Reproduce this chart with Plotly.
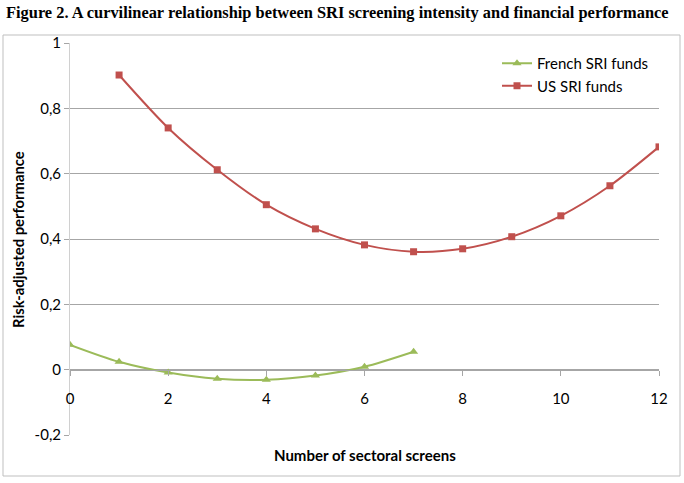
import plotly.graph_objects as go

x_french = [0, 1, 2, 3, 4, 5, 6, 7]
y_french = [0.076, 0.024, -0.009, -0.028, -0.031, -0.018, 0.009, 0.055]
x_us = [1, 2, 3, 4, 5, 6, 7, 8, 9, 10, 11, 12]
y_us = [0.902, 0.740, 0.612, 0.505, 0.431, 0.382, 0.361, 0.370, 0.407, 0.471, 0.563, 0.682]

y_tickvals = [-0.2, 0, 0.2, 0.4, 0.6, 0.8, 1]
y_ticktext = ["-0,2", "0", "0,2", "0,4", "0,6", "0,8", "1"]
x_tickvals = [0, 2, 4, 6, 8, 10, 12]
x_ticktext = ["0", "2", "4", "6", "8", "10", "12"]

title = "Figure 2. A curvilinear relationship between SRI screening intensity and financial performance"
x_title = "Number of sectoral screens"
y_title = "Risk-adjusted performance"

GREEN = "#9BBB59"
RED = "#C0504D"
FONT = "Lato"

fig = go.Figure()
fig.add_trace(go.Scatter(x=x_french, y=y_french, name="French SRI funds", mode="lines+markers",
                         line=dict(color=GREEN, width=2, shape="spline", smoothing=0.8),
                         marker=dict(symbol="triangle-up", size=8, color=GREEN)))
fig.add_trace(go.Scatter(x=x_us, y=y_us, name="US SRI funds", mode="lines+markers",
                         line=dict(color=RED, width=2, shape="spline", smoothing=0.8),
                         marker=dict(symbol="square", size=7, color=RED)))

L, R, T, B = 70, 25, 43, 48
W, H = 684, 483
pw, ph = W - L - R, H - T - B

def px(xp):
    return (xp - L) / pw

def py(yp):
    return (H - B - yp) / ph

fig.update_layout(
    width=W, height=H,
    margin=dict(l=L, r=R, t=T, b=B),
    paper_bgcolor="white", plot_bgcolor="white",
    font=dict(family=FONT, size=15, color="black"),
    showlegend=True,
    legend=dict(x=px(497), y=py(47), xanchor="left", yanchor="top",
                font=dict(family=FONT, size=15), bgcolor="rgba(0,0,0,0)",
                itemwidth=30, tracegroupgap=0),
    xaxis=dict(range=[0, 12], tickvals=x_tickvals, ticktext=x_ticktext,
               showgrid=False, zeroline=False, showline=True, linecolor="#A6A6A6", linewidth=1,
               ticks="outside", ticklen=5, tickcolor="#A6A6A6", ticklabelstandoff=10,
               anchor="free", position=(0 - (-0.2)) / 1.2,
               tickfont=dict(family=FONT, size=15)),
    yaxis=dict(range=[-0.2, 1], tickvals=y_tickvals, ticktext=y_ticktext,
               showgrid=True, gridcolor="#A6A6A6", gridwidth=1, zeroline=False,
               showline=True, linecolor="#D0D0D0", linewidth=1,
               ticks="outside", ticklen=5, tickcolor="#A6A6A6",
               tickfont=dict(family=FONT, size=15)),
    annotations=[
        dict(text="<b>" + title + "</b>", xref="paper", yref="paper", x=px(4), y=py(12),
             xanchor="left", yanchor="middle", showarrow=False,
             font=dict(family="Liberation Serif", size=16.4, color="black")),
        dict(text="<b>" + x_title + "</b>", xref="paper", yref="paper", x=px(365), y=py(455),
             xanchor="center", yanchor="middle", showarrow=False,
             font=dict(family=FONT, size=15, color="black")),
        dict(text="<b>" + y_title + "</b>", xref="paper", yref="paper", x=px(18), y=py(240),
             xanchor="center", yanchor="middle", showarrow=False, textangle=-90,
             font=dict(family=FONT, size=14.8, color="black")),
    ],
    shapes=[
        dict(type="rect", xref="paper", yref="paper", x0=px(3), x1=px(680), y0=py(476), y1=py(35),
             line=dict(color="#BFBFBF", width=1), layer="below"),
    ],
)

fig.write_html("out.html")
